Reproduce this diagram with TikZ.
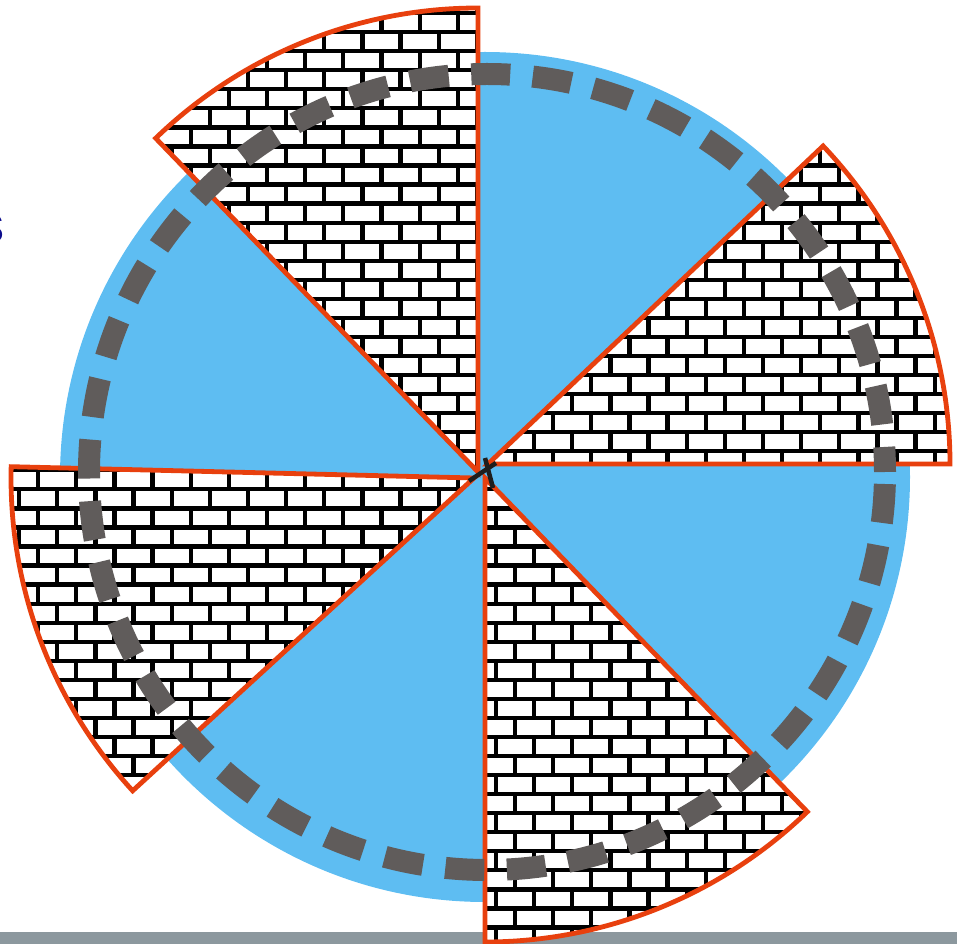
\documentclass[tikz,border=0pt]{standalone}
\usepackage{fontspec}
\setmainfont{Liberation Sans}

\definecolor{discblue}{RGB}{94,189,242}
\definecolor{wallorange}{RGB}{232,64,14}
\definecolor{trackgray}{RGB}{96,92,91}
\definecolor{floorgray}{RGB}{140,152,158}
\definecolor{tagblue}{RGB}{12,12,140}

% the four wall sectors, one path
\newcommand\wallsectors{%
  (478,472) -- ++(-90:464) arc [start angle=-90, end angle=-134, radius=464] -- cycle
  (488,464) -- ++(0:462) arc [start angle=0, end angle=-43.5, radius=462] -- cycle
  (485,478) -- ++(90:464) arc [start angle=90, end angle=46, radius=464] -- cycle
  (474,478) -- ++(181.4:463) arc [start angle=181.4, end angle=137.5, radius=463] -- cycle}

\tikzset{
  wall edge/.style={draw=wallorange, line width=3.6pt, line join=miter},
  mortar/.style={draw=black, line width=3.2pt},
  track/.style={draw=trackgray, line width=16.5pt,
    dash pattern=on 29.25pt off 16.95pt, dash phase=37.2pt},
  pivot/.style={draw={rgb,255:red,30;green,30;blue,30}, line width=3.4pt}
}

\begin{document}
\begin{tikzpicture}[x=0.75pt,y=0.75pt,yscale=-1,xscale=1]
  \useasboundingbox (0,0) rectangle (957,944);
  % floor bar
  \fill [floorgray] (0,932) rectangle (957,944);
  % disc
  \fill [discblue] (485,477) circle [radius=425];
  % brick walls
  \begin{scope}
    \clip \wallsectors;
    \fill [white] (0,0) rectangle (957,944);
    \foreach \j in {-1,...,49}{
      \pgfmathsetmacro\ya{13.1+19.05*\j}
      \pgfmathsetmacro\yb{\ya+19.05}
      \pgfmathsetmacro\xo{mod(\j+2,2)*19.075}
      \draw [mortar] (0,\ya) -- (957,\ya);
      \draw [mortar] foreach \m in {0,...,25} {({\xo+38.15*\m},\ya) -- ({\xo+38.15*\m},\yb)};
    }
  \end{scope}
  \draw [wall edge] \wallsectors;
  % dashed track
  \draw [track] (487,472) circle [radius=398];
  % centre mark
  \draw [pivot] (469,481) -- (496,463);
  \draw [pivot] (485,458) -- (493,488);
  \node [anchor=base east, inner sep=0pt, text=tagblue, font=\fontsize{39}{40}\selectfont] (tag) at (5,243) {s};
\end{tikzpicture}
\end{document}
